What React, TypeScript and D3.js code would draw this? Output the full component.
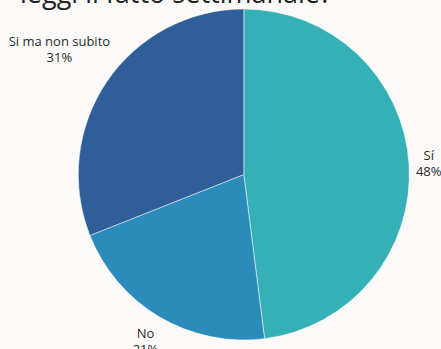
import React, { useEffect, useRef } from "react";
import * as d3 from "d3";

const categories = ["Sí", "No", "Si ma non subito"];
const values = [48, 21, 31];
const colors = ["#34b0b6", "#2b8bbb", "#2e5f98"];
const titleText = "leggi il fatto settimanale?";

const W = 441;
const H = 349;

export default function App() {
  const ref = useRef<SVGSVGElement | null>(null);

  useEffect(() => {
    document.body.style.margin = "0";
    const svg = d3.select(ref.current);
    svg.selectAll("*").remove();

    svg.append("rect").attr("width", W).attr("height", H).attr("fill", "#fbfaf9");

    const cx = 243.8;
    const cy = 174.5;
    const R = 165.5;
    const labelR = 172;

    const pie = d3.pie<number>().sort(null).value((d) => d);
    const arcs = pie(values);
    const arc = d3.arc<d3.PieArcDatum<number>>().innerRadius(0).outerRadius(R);

    const g = svg.append("g").attr("transform", `translate(${cx},${cy})`);
    g.selectAll("path")
      .data(arcs)
      .join("path")
      .attr("d", arc as any)
      .attr("fill", (_d, i) => colors[i])
      .attr("stroke", "#ffffff")
      .attr("stroke-width", 0.5);

    const total = d3.sum(values);
    const fmt = (v: number) => `${Math.round((v / total) * 100)}%`;

    arcs.forEach((a, i) => {
      const t = g
        .append("text")
        .attr("font-family", "'Open Sans', sans-serif")
        .attr("font-size", 13)
        .attr("fill", "#2a2a2a")
        .attr("text-anchor", "middle");
      t.append("tspan").attr("x", 0).attr("dy", 0).text(categories[i]);
      t.append("tspan").attr("x", 0).attr("dy", 16).text(fmt(values[i]));
      const bb = (t.node() as SVGTextElement).getBBox();
      const hw = bb.width / 2;
      const hh = bb.height / 2;
      const offY = bb.y + hh; // center offset from anchor
      const mid = (a.startAngle + a.endAngle) / 2;
      const ux = Math.sin(mid);
      const uy = -Math.cos(mid);
      const dist = (s: number) => {
        const bx = s * ux;
        const by = s * uy;
        const nx = Math.max(bx - hw, Math.min(0, bx + hw));
        const ny = Math.max(by - hh, Math.min(0, by + hh));
        return Math.hypot(nx, ny);
      };
      let lo = 0;
      let hi = 500;
      for (let k = 0; k < 60; k++) {
        const m = (lo + hi) / 2;
        if (dist(m) < labelR) lo = m;
        else hi = m;
      }
      const px = hi * ux;
      const py = hi * uy;
      t.attr("transform", `translate(${px},${py - offY})`);
    });

    svg
      .append("text")
      .attr("x", 20)
      .attr("y", 3)
      .attr("font-family", "'Open Sans', sans-serif")
      .attr("font-size", 27)
      .attr("fill", "#222")
      .text(titleText);
  }, []);

  return <svg ref={ref} width={W} height={H} style={{ display: "block" }} />;
}
